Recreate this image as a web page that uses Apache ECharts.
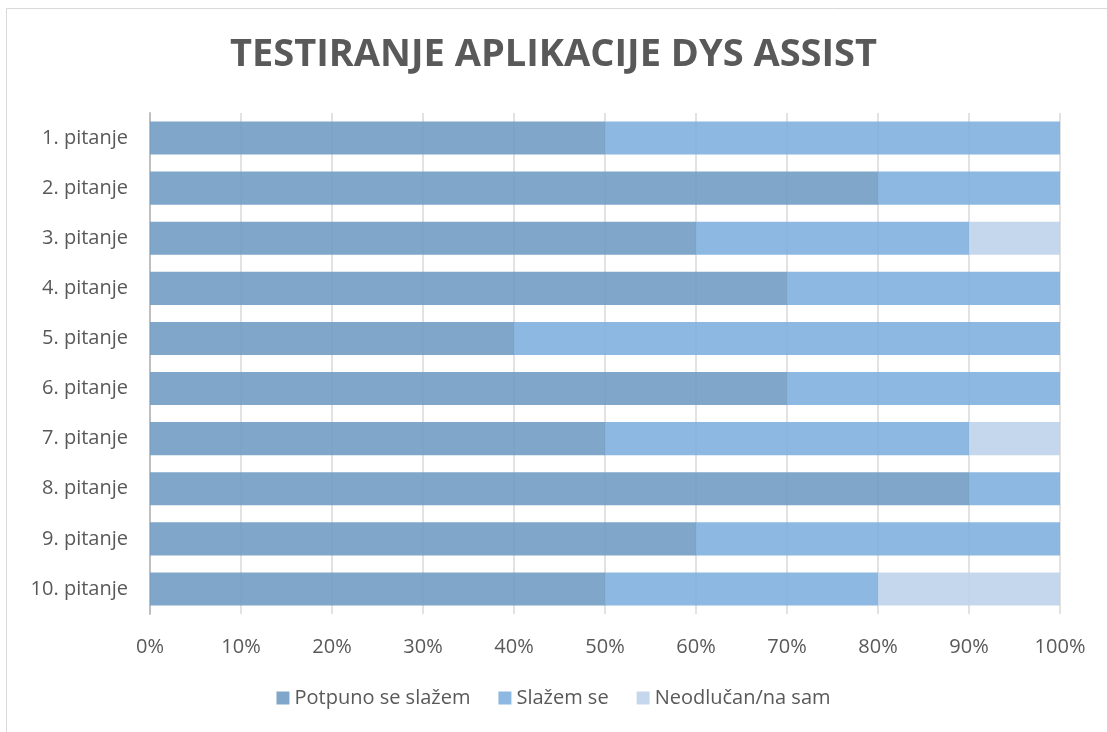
<!DOCTYPE html>
<html>
<head>
<meta charset="utf-8">
<script src="https://cdn.jsdelivr.net/npm/echarts@6/dist/echarts.min.js"></script>
<style>
	html, body { margin: 0; padding: 0; background: #fff; }
	#chart { width: 1107px; height: 732px; }
</style>
</head>
<body>
<div id="chart"></div>
<script>
	// kategorije (pitanja)
	var questions = ['1. pitanje', '2. pitanje', '3. pitanje', '4. pitanje', '5. pitanje',
		'6. pitanje', '7. pitanje', '8. pitanje', '9. pitanje', '10. pitanje'];
	var seriesNames = ['Potpuno se slažem', 'Slažem se', 'Neodlučan/na sam'];
	// udjeli u postocima
	var fullyAgree = [50, 80, 60, 70, 40, 70, 50, 90, 60, 50];
	var agree = [50, 20, 30, 30, 60, 30, 40, 10, 40, 30];
	var undecided = [0, 0, 10, 0, 0, 0, 10, 0, 0, 20];
	var colorList = ['rgba(114,157,196,0.9)', 'rgba(127,176,222,0.9)', 'rgba(191,211,235,0.9)'];

	var myChart = echarts.init(document.getElementById('chart'));

	var makeSeries = function(name, data, color) {
		return {
			name: name,
			type: 'bar',
			stack: 'total',
			barWidth: '66%',
			data: data,
			itemStyle: { color: color }
		};
	};

	var option = {
		animation: false,
		textStyle: { fontFamily: 'Open Sans' },
		title: {
			text: 'TESTIRANJE APLIKACIJE DYS ASSIST',
			left: 'center',
			top: 31,
			textStyle: { fontSize: 38, fontWeight: 'bold', color: '#595959', fontFamily: 'Open Sans' }
		},
		graphic: [{
			type: 'rect',
			shape: { x: 6.5, y: 8.5, width: 1200, height: 800 },
			style: { fill: 'none', stroke: '#d9d9d9', lineWidth: 1 },
			silent: true
		}],
		legend: {
			bottom: 19,
			left: 'center',
			itemWidth: 13,
			itemHeight: 13,
			itemGap: 28,
			icon: 'rect',
			textStyle: { fontSize: 20, color: '#595959', fontFamily: 'Open Sans' },
			data: seriesNames
		},
		grid: { left: 150, right: 47, top: 113, bottom: 118 },
		xAxis: {
			type: 'value',
			min: 0,
			max: 100,
			interval: 10,
			axisLine: { show: false },
			axisTick: { show: false },
			axisLabel: { fontSize: 20, color: '#595959', margin: 23, formatter: '{value}%' },
			splitLine: { lineStyle: { color: '#d9d9d9', width: 1.5 } }
		},
		yAxis: {
			type: 'category',
			inverse: true,
			data: questions,
			axisLine: { lineStyle: { color: '#bfbfbf', width: 2 } },
			axisTick: { show: false },
			axisLabel: { fontSize: 20, color: '#595959', margin: 22 }
		},
		series: [
			makeSeries(seriesNames[0], fullyAgree, colorList[0]),
			makeSeries(seriesNames[1], agree, colorList[1]),
			makeSeries(seriesNames[2], undecided, colorList[2])
		]
	};
	myChart.setOption(option);
</script>
</body>
</html>
